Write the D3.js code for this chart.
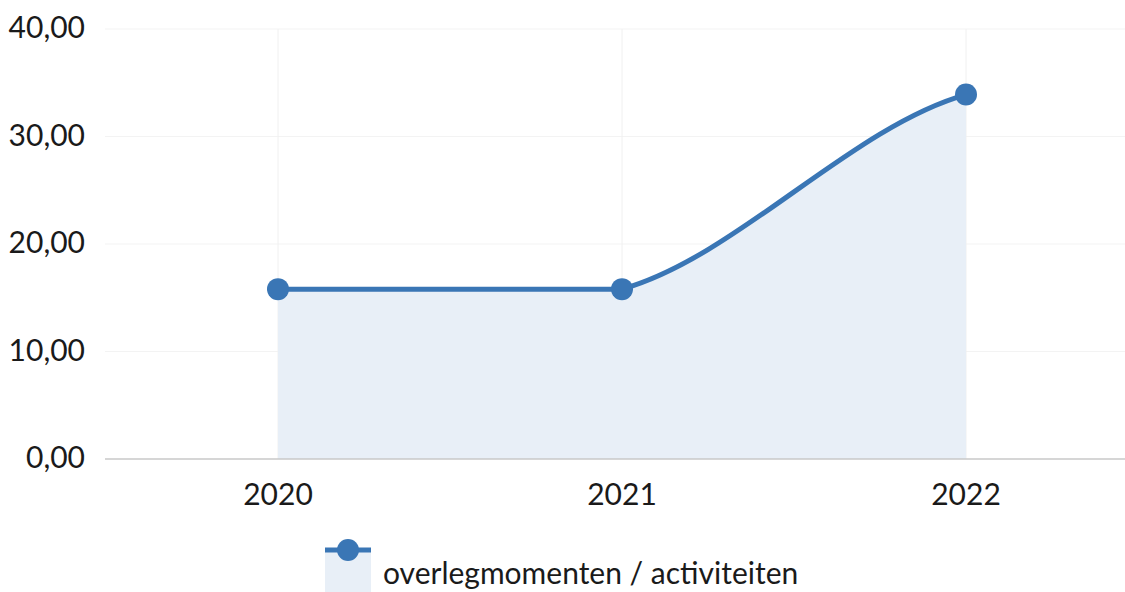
<!DOCTYPE html>
<html>
<head>
<meta charset="utf-8">
<script src="https://cdnjs.cloudflare.com/ajax/libs/d3/7.8.5/d3.min.js"></script>
<style>
  body { margin: 0; background: #fff; }
  svg { display: block; font-family: Lato, sans-serif; }
</style>
</head>
<body>
<svg id="chart" width="1125" height="592"></svg>
<script>
const years = ['2020', '2021', '2022'];
const values = [15.8, 15.8, 33.9];
const yTicks = [0, 10, 20, 30, 40];
const seriesName = 'overlegmomenten / activiteiten';

const lineColor = '#3a76b5';
const areaColor = '#e8eff7';
const textColor = '#1a1a1a';

const svg = d3.select('#chart');
const data = years.map((y, i) => ({ year: y, value: values[i] }));

const x = d3.scaleBand().domain(years).range([106, 1138]);
const y = d3.scaleLinear().domain([0, 40]).range([459, 29]);
const cx = d => x(d.year) + x.bandwidth() / 2;

// smooth path: hermite segments, flat where neighbours are equal,
// endpoints use half the adjacent segment's change
const smoothPath = (pts, ctx) => {
    const n = pts.length;
    const tan = i => {
        const prev = pts[Math.max(0, i - 1)];
        const next = pts[Math.min(n - 1, i + 1)];
        return (next[1] - prev[1]) / 2;
    };
    ctx.lineTo(pts[0][0], pts[0][1]);
    for (let i = 0; i < n - 1; i++) {
        const p0 = pts[i], p1 = pts[i + 1];
        const dx = (p1[0] - p0[0]) / 3;
        const flat = p0[1] === p1[1];
        const m0 = flat ? 0 : tan(i) / 3;
        const m1 = flat ? 0 : tan(i + 1) / 3;
        ctx.bezierCurveTo(p0[0] + dx, p0[1] + m0, p1[0] - dx, p1[1] - m1, p1[0], p1[1]);
    }
    return ctx;
};

const pts = data.map(d => [cx(d), y(d.value)]);

// grid
svg.append('g')
    .selectAll('line')
    .data(yTicks.slice(1))
    .join('line')
    .attr('x1', 105).attr('x2', 1125)
    .attr('y1', d => y(d)).attr('y2', d => y(d))
    .attr('stroke', '#f3f3f3').attr('stroke-width', 1);

svg.append('g')
    .selectAll('line')
    .data(years)
    .join('line')
    .attr('x1', d => x(d) + x.bandwidth() / 2).attr('x2', d => x(d) + x.bandwidth() / 2)
    .attr('y1', y(40)).attr('y2', y(0))
    .attr('stroke', '#f0f0f0').attr('stroke-width', 1);

// area
const areaPath = d3.path();
areaPath.moveTo(pts[0][0], y(0));
smoothPath(pts, areaPath);
areaPath.lineTo(pts[pts.length - 1][0], y(0));
areaPath.closePath();
svg.append('path').attr('d', areaPath.toString()).attr('fill', areaColor);

// x axis line
svg.append('line')
    .attr('x1', 105).attr('x2', 1125)
    .attr('y1', y(0)).attr('y2', y(0))
    .attr('stroke', '#c8c8c8').attr('stroke-width', 1.5);

// line
const linePath = d3.path();
linePath.moveTo(pts[0][0], pts[0][1]);
smoothPath(pts, linePath);
svg.append('path').attr('d', linePath.toString())
    .attr('fill', 'none').attr('stroke', lineColor).attr('stroke-width', 5);

svg.append('g')
    .selectAll('circle')
    .data(data)
    .join('circle')
    .attr('cx', cx).attr('cy', d => y(d.value))
    .attr('r', 11).attr('fill', lineColor);

// y labels
svg.append('g')
    .selectAll('text')
    .data(yTicks)
    .join('text')
    .attr('x', 85).attr('y', d => y(d) + 9)
    .attr('text-anchor', 'end')
    .attr('font-size', 30).attr('fill', textColor)
    .text(d => d3.format('.2f')(d).replace('.', ','));

// x labels
svg.append('g')
    .selectAll('text')
    .data(years)
    .join('text')
    .attr('x', d => x(d) + x.bandwidth() / 2).attr('y', 505)
    .attr('text-anchor', 'middle')
    .attr('font-size', 30).attr('fill', textColor)
    .text(d => d);

// legend
const legend = svg.append('g').attr('transform', 'translate(325,550)');
legend.append('rect').attr('x', 0).attr('y', 0).attr('width', 46).attr('height', 42).attr('fill', areaColor);
legend.append('line').attr('x1', 0).attr('x2', 46).attr('y1', 0).attr('y2', 0)
    .attr('stroke', lineColor).attr('stroke-width', 5);
legend.append('circle').attr('cx', 23).attr('cy', 0).attr('r', 11).attr('fill', lineColor);
legend.append('text').attr('x', 58).attr('y', 34)
    .attr('font-size', 30).attr('fill', textColor)
    .text(seriesName);
</script>
</body>
</html>
